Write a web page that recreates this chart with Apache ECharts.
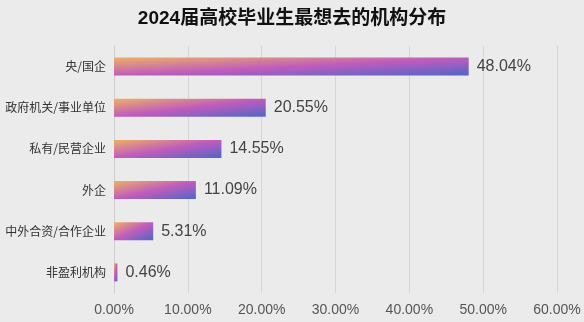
<!DOCTYPE html>
<html>
<head>
<meta charset="utf-8">
<script src="https://cdn.jsdelivr.net/npm/echarts@6/dist/echarts.min.js"></script>
<style>
html,body{margin:0;padding:0;background:#ebebeb;}
#c{width:584px;height:322px;}
</style>
</head>
<body>
<div id="c"></div>
<script>
const titleText = '2024届高校毕业生最想去的机构分布';
const categories = ['央/国企', '政府机关/事业单位', '私有/民营企业', '外企', '中外合资/合作企业', '非盈利机构'];
const values = [48.04, 20.55, 14.55, 11.09, 5.31, 0.46];
const xTicks = [0, 10, 20, 30, 40, 50, 60];

const FONT = '"Noto Sans CJK SC", "Noto Sans", sans-serif';
const NUMFONT = '"Liberation Sans", "Noto Sans CJK SC", sans-serif';
const BAR_H = 18;

const chart = echarts.init(document.getElementById('c'), null, {renderer: 'canvas'});

function grad(wPx) {
  const w = Math.max(wPx, 1), h = BAR_H;
  const x2 = 2 * h * h / (h * h + w * w);
  const y2 = 2 * w * w / (h * h + w * w);
  return new echarts.graphic.LinearGradient(0, 0, x2, y2, [
    {offset: 0, color: '#eeb066'},
    {offset: 0.5, color: '#c05cbc'},
    {offset: 1, color: '#4f66c8'}
  ]);
}

function buildOption(pxFn) {
  return {
    backgroundColor: '#ebebeb',
    animation: false,
    title: {
      text: titleText,
      left: 'center',
      top: 4,
      textStyle: {fontFamily: NUMFONT, fontSize: 19, fontWeight: 'bold', color: '#111'}
    },
    grid: {left: 114, right: 27, top: 46, bottom: 29},
    xAxis: {
      type: 'value',
      min: xTicks[0],
      max: xTicks[xTicks.length - 1],
      interval: 10,
      axisLine: {show: false},
      axisTick: {show: false},
      splitLine: {show: true, lineStyle: {color: '#d6d6d6', width: 1}},
      axisLabel: {
        fontFamily: NUMFONT, fontSize: 14, color: '#555', margin: 10,
        formatter: v => v.toFixed(2) + '%'
      }
    },
    yAxis: {
      type: 'category',
      inverse: true,
      data: categories,
      axisLine: {show: true, lineStyle: {color: '#cfcfcf'}},
      axisTick: {show: false},
      axisLabel: {fontFamily: FONT, fontSize: 12, color: '#333', margin: 8}
    },
    series: [{
      type: 'bar',
      barWidth: BAR_H,
      data: values.map(v => ({
        value: v,
        itemStyle: {color: grad(pxFn(v))}
      })),
      label: {
        show: true,
        position: 'right',
        distance: 8,
        fontFamily: NUMFONT,
        fontSize: 16,
        color: '#444',
        formatter: p => p.value.toFixed(2) + '%'
      }
    }]
  };
}

chart.setOption(buildOption(v => v * 7.38));
const zero = chart.convertToPixel({xAxisIndex: 0}, 0);
chart.setOption(buildOption(v => chart.convertToPixel({xAxisIndex: 0}, v) - zero));
</script>
</body>
</html>
